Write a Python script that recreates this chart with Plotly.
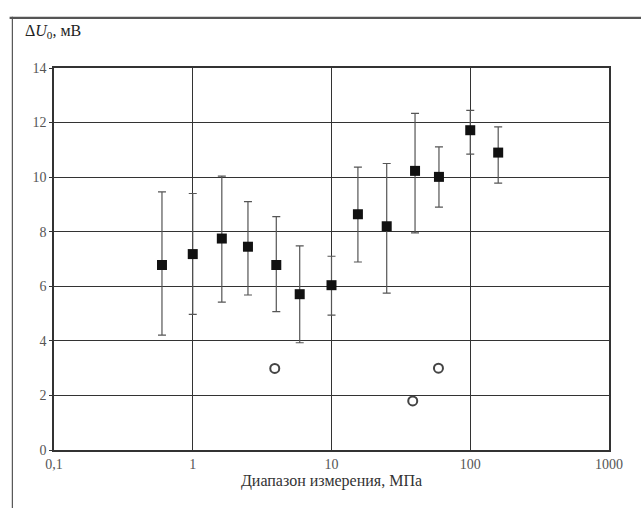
import plotly.graph_objects as go

# Data
x_sq = [0.6, 1.0, 1.62, 2.5, 4.0, 5.9, 10.0, 15.5, 25.0, 40.0, 59.5, 100.0, 159.0]
y_sq = [6.78, 7.18, 7.75, 7.45, 6.78, 5.71, 6.04, 8.64, 8.2, 10.23, 10.01, 11.72, 10.9]
y_top = [9.46, 9.4, 10.04, 9.1, 8.55, 7.48, 7.1, 10.37, 10.5, 12.34, 11.11, 12.45, 11.84]
y_bot = [4.21, 4.97, 5.42, 5.68, 5.07, 3.93, 4.94, 6.89, 5.75, 7.96, 8.9, 10.84, 9.78]

x_circ = [3.9, 38.5, 59.0]
y_circ = [2.99, 1.8, 3.0]

x_tickvals = [0.1, 1, 10, 100, 1000]
x_ticktext = ["0,1", "1", "10", "100", "1000"]
y_tickvals = [0, 2, 4, 6, 8, 10, 12, 14]

err_plus = [t - y for t, y in zip(y_top, y_sq)]
err_minus = [y - b for y, b in zip(y_sq, y_bot)]

font_family = "Liberation Serif, Times New Roman, serif"

fig = go.Figure()
fig.add_trace(go.Scatter(
    x=x_sq, y=y_sq, mode="markers",
    marker=dict(symbol="square", size=10, color="#111111"),
    error_y=dict(type="data", symmetric=False, array=err_plus, arrayminus=err_minus,
                 color="#555555", thickness=1.2, width=4),
    showlegend=False,
))
fig.add_trace(go.Scatter(
    x=x_circ, y=y_circ, mode="markers",
    marker=dict(symbol="circle-open", size=9, color="#444444", line=dict(width=2)),
    showlegend=False,
))

fig.update_xaxes(
    type="log", range=[-1, 3], tickvals=x_tickvals, ticktext=x_ticktext,
    showgrid=True, gridcolor="#333333", gridwidth=1.3,
    showline=True, linecolor="#333333", linewidth=1.5, mirror=True,
    ticks="", zeroline=False,
    tickfont=dict(family=font_family, size=14, color="#555555"),
    title=dict(text="Диапазон измерения, МПа", standoff=3,
               font=dict(family=font_family, size=16, color="#333333")),
)
fig.update_yaxes(
    range=[0, 14], tickvals=y_tickvals,
    showgrid=True, gridcolor="#333333", gridwidth=1.3,
    showline=True, linecolor="#333333", linewidth=1.5, mirror=True,
    ticks="outside", ticklen=3, tickcolor="#333333", zeroline=False,
    tickfont=dict(family=font_family, size=14, color="#555555"),
)

fig.add_annotation(
    text="Δ<i>U</i><sub>0</sub>, мВ", xref="paper", yref="paper",
    x=-0.055, y=1.065, xanchor="left", yanchor="bottom", showarrow=False,
    font=dict(family=font_family, size=16, color="#222222"),
)

# scanned page frame: top band and left edge
fig.add_shape(type="rect", xref="paper", yref="paper", x0=-0.08, x1=1.1, y0=1.128, y1=1.134,
              line=dict(width=0), fillcolor="#555555", layer="above")
fig.add_shape(type="line", xref="paper", yref="paper", x0=-0.075, x1=-0.075, y0=1.134, y1=-0.2,
              line=dict(color="#555555", width=1.2), layer="above")

fig.update_layout(
    width=641, height=508,
    margin=dict(l=54, r=32, t=68, b=58),
    paper_bgcolor="white", plot_bgcolor="white",
)

fig.write_html("out.html", config={"displayModeBar": False},
               post_script="document.body.style.margin='0';document.body.style.overflow='hidden';")
